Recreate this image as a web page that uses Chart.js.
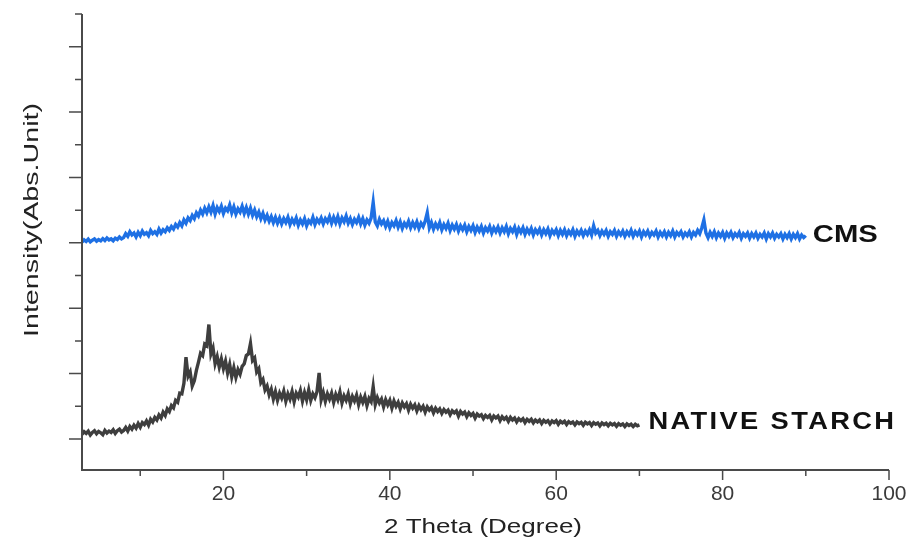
<!DOCTYPE html>
<html>
<head>
<meta charset="utf-8">
<script src="https://cdn.jsdelivr.net/npm/chart.js@4.4.1/dist/chart.umd.min.js"></script>
<style>
html, body { margin: 0; padding: 0; background: #fff; }
#wrap { width: 909px; height: 541px; }
</style>
</head>
<body>
<div id="wrap"><canvas id="chartXrd"></canvas></div>
<script>
// 2 theta sampling (degrees)
var thetaStart = 3
var thetaStep = 0.25

// CMS, 3 -> 90 deg (one row = 5 deg)
var cmsIntensity = [
    6.02,6.09,6.04,6.11,6.03,6.08,6.12,6.05,6.10,6.06,6.13,6.07,6.15,6.09,6.12,6.06,6.14,6.10,6.18,6.12,
    6.16,6.28,6.20,6.34,6.24,6.30,6.18,6.32,6.22,6.36,6.26,6.31,6.22,6.38,6.28,6.34,6.26,6.42,6.30,6.40,
    6.34,6.46,6.38,6.50,6.42,6.56,6.48,6.62,6.52,6.70,6.60,6.76,6.68,6.84,6.74,6.92,6.82,7.00,6.88,7.06,
    6.92,7.10,6.94,7.14,6.88,7.08,6.96,7.12,6.90,7.06,6.98,7.16,6.92,7.10,6.88,7.04,6.94,7.12,6.90,7.08,
    6.88,7.06,6.84,7.00,6.80,6.94,6.74,6.90,6.70,6.84,6.66,6.80,6.62,6.78,6.60,6.76,6.58,6.74,6.62,6.78,
    6.56,6.72,6.60,6.76,6.54,6.70,6.58,6.74,6.52,6.68,6.60,6.78,6.56,6.72,6.62,6.76,6.58,6.74,6.64,6.80,
    6.60,6.78,6.62,6.80,6.58,6.76,6.64,6.82,6.60,6.74,6.56,6.72,6.62,6.78,6.58,6.74,6.54,6.70,6.60,6.76,
    7.24,6.64,6.52,6.72,6.58,6.68,6.50,6.66,6.46,6.62,6.52,6.68,6.48,6.64,6.44,6.60,6.50,6.66,6.46,6.62,
    6.48,6.64,6.44,6.60,6.50,6.66,6.92,6.46,6.62,6.42,6.58,6.46,6.62,6.40,6.56,6.44,6.60,6.38,6.54,6.42,
    6.56,6.36,6.52,6.40,6.54,6.34,6.50,6.38,6.52,6.32,6.48,6.36,6.50,6.30,6.46,6.36,6.50,6.30,6.46,6.34,
    6.48,6.30,6.46,6.34,6.50,6.28,6.44,6.34,6.48,6.26,6.44,6.32,6.46,6.26,6.42,6.30,6.44,6.24,6.40,6.30,
    6.42,6.24,6.40,6.28,6.42,6.22,6.38,6.28,6.40,6.22,6.38,6.26,6.40,6.22,6.36,6.26,6.40,6.20,6.36,6.26,
    6.38,6.22,6.36,6.26,6.40,6.24,6.52,6.30,6.38,6.22,6.36,6.26,6.38,6.20,6.34,6.26,6.38,6.20,6.34,6.24,
    6.36,6.20,6.34,6.24,6.38,6.20,6.34,6.24,6.36,6.18,6.34,6.24,6.36,6.20,6.32,6.24,6.36,6.18,6.32,6.22,
    6.34,6.18,6.32,6.22,6.36,6.18,6.32,6.24,6.34,6.18,6.30,6.22,6.34,6.18,6.32,6.24,6.38,6.28,6.46,6.70,
    6.30,6.16,6.32,6.20,6.34,6.16,6.30,6.20,6.32,6.14,6.30,6.20,6.32,6.16,6.28,6.20,6.32,6.14,6.28,6.20,
    6.30,6.14,6.28,6.18,6.30,6.14,6.26,6.18,6.30,6.12,6.28,6.18,6.30,6.14,6.26,6.18,6.28,6.12,6.26,6.16,
    6.28,6.12,6.26,6.16,6.28,6.12,6.24,6.16,6.22
]

// native starch, 3 -> 70 deg (one row = 5 deg)
var nativeIntensity = [
    0.14,0.22,0.17,0.24,0.12,0.20,0.25,0.16,0.23,0.19,0.13,0.26,0.18,0.24,0.20,0.28,0.17,0.25,0.30,0.21,
    0.26,0.35,0.24,0.38,0.30,0.42,0.33,0.47,0.36,0.50,0.44,0.55,0.42,0.60,0.52,0.66,0.58,0.73,0.64,0.82,
    0.72,0.92,0.84,1.02,0.95,1.18,1.12,1.40,1.38,1.70,2.50,1.92,2.05,1.62,1.78,2.10,2.35,2.62,2.55,2.90,
    2.85,3.50,2.60,2.78,2.30,2.52,2.20,2.45,2.15,2.38,2.02,2.28,1.90,2.18,1.88,2.12,1.98,2.22,2.30,2.55,
    2.60,2.92,2.40,2.48,2.05,2.15,1.72,1.82,1.50,1.62,1.35,1.52,1.22,1.45,1.18,1.40,1.25,1.46,1.15,1.38,
    1.22,1.45,1.14,1.40,1.28,1.48,1.16,1.42,1.20,1.50,1.18,1.38,1.26,1.45,2.02,1.20,1.42,1.15,1.38,1.22,
    1.40,1.12,1.36,1.20,1.44,1.10,1.32,1.18,1.38,1.08,1.30,1.16,1.34,1.05,1.28,1.12,1.30,1.02,1.24,1.14,
    1.60,1.05,1.26,1.10,1.22,0.98,1.20,1.04,1.18,0.94,1.16,1.00,1.12,0.92,1.10,0.98,1.08,0.88,1.06,0.94,
    1.04,0.86,1.02,0.90,1.00,0.82,0.98,0.88,0.96,0.80,0.94,0.84,0.92,0.78,0.90,0.82,0.88,0.74,0.86,0.80,
    0.86,0.70,0.84,0.76,0.82,0.68,0.80,0.72,0.78,0.64,0.76,0.70,0.74,0.62,0.72,0.66,0.72,0.58,0.70,0.64,
    0.70,0.56,0.68,0.60,0.66,0.54,0.66,0.58,0.64,0.52,0.62,0.56,0.62,0.50,0.60,0.54,0.60,0.49,0.58,0.52,
    0.58,0.47,0.57,0.51,0.56,0.46,0.55,0.50,0.56,0.45,0.54,0.49,0.54,0.44,0.53,0.48,0.52,0.43,0.52,0.47,
    0.51,0.42,0.51,0.46,0.50,0.41,0.50,0.45,0.49,0.40,0.49,0.44,0.48,0.40,0.48,0.43,0.47,0.39,0.47,0.42,
    0.46,0.38,0.46,0.41,0.45,0.38,0.45,0.40,0.43
]

var seriesNames = ['CMS', 'NATIVE STARCH']
var thetaTicks = [20, 40, 60, 80, 100]
var thetaMinor = [10, 30, 50, 70, 90]
var intensityMajor = [0, 2, 4, 6, 8, 10, 12]
var intensityMinor = [1, 3, 5, 7, 9, 11, 13]
var xTitle = '2 Theta (Degree)'
var yTitle = 'Intensity(Abs.Unit)'

function toPoints(values){
    return values.map(function(v, i){
        return {x: thetaStart + i * thetaStep, y: v}
    })
}

var axisColor = '#4a4a4a'

// axes, ticks, titles and series names drawn by hand (origin style)
var decorPlugin = {
    id: 'decor',
    afterDraw: function(chart){
        let c = chart.ctx
        let a = chart.chartArea
        let xs = chart.scales.x
        let ys = chart.scales.y
        c.save()
        c.strokeStyle = axisColor
        c.lineWidth = 2
        c.beginPath()
        c.moveTo(a.left, a.top)
        c.lineTo(a.left, a.bottom)
        c.lineTo(a.right, a.bottom)
        c.stroke()
        c.lineWidth = 1.5
        c.beginPath()
        intensityMajor.forEach(function(v){
            let y = ys.getPixelForValue(v)
            c.moveTo(a.left, y); c.lineTo(a.left - 13, y)
        })
        intensityMinor.forEach(function(v){
            let y = ys.getPixelForValue(v)
            c.moveTo(a.left, y); c.lineTo(a.left - 7, y)
        })
        thetaTicks.forEach(function(v){
            let x = xs.getPixelForValue(v)
            c.moveTo(x, a.bottom); c.lineTo(x, a.bottom + 10)
        })
        thetaMinor.forEach(function(v){
            let x = xs.getPixelForValue(v)
            c.moveTo(x, a.bottom); c.lineTo(x, a.bottom + 6)
        })
        c.stroke()

        // x title
        c.fillStyle = '#222'
        c.textAlign = 'center'
        c.textBaseline = 'middle'
        c.font = '21px "Liberation Sans", Arial, sans-serif'
        let w = c.measureText(xTitle).width
        c.save()
        c.translate(483, 527)
        c.scale(198 / w, 1)
        c.fillText(xTitle, 0, 0)
        c.restore()

        // y title
        c.font = '20px "Liberation Sans", Arial, sans-serif'
        w = c.measureText(yTitle).width
        c.save()
        c.translate(32, 220)
        c.rotate(-Math.PI / 2)
        c.scale(234 / w, 1)
        c.fillText(yTitle, 0, 0)
        c.restore()

        // series names at the end of each trace
        c.fillStyle = '#111'
        c.textAlign = 'left'
        c.font = 'bold 23px "Liberation Sans", Arial, sans-serif'
        let cmsEnd = thetaStart + (cmsIntensity.length - 1) * thetaStep
        let natEnd = thetaStart + (nativeIntensity.length - 1) * thetaStep
        w = c.measureText(seriesNames[0]).width
        c.save()
        c.translate(xs.getPixelForValue(cmsEnd) + 7, 236)
        c.scale(65 / w, 1)
        c.fillText(seriesNames[0], 0, 0)
        c.restore()
        c.letterSpacing = '2px'
        w = c.measureText(seriesNames[1]).width
        c.save()
        c.translate(xs.getPixelForValue(natEnd) + 9, 423)
        c.scale(248 / w, 1)
        c.fillText(seriesNames[1], 0, 0)
        c.restore()
        c.restore()
    }
}

var ctx = document.getElementById('chartXrd')
var chartXrd = new Chart(ctx, {
    type: 'line',
    data: {
        datasets: [{
            label: seriesNames[0],
            data: toPoints(cmsIntensity),
            borderColor: 'rgb(30, 112, 228)',
            borderWidth: 3.4,
            pointRadius: 0,
            tension: 0
        }, {
            label: seriesNames[1],
            data: toPoints(nativeIntensity),
            borderColor: 'rgb(62, 62, 62)',
            borderWidth: 3.4,
            pointRadius: 0,
            tension: 0
        }]
    },
    options: {
        responsive: true,
        maintainAspectRatio: false,
        animation: false,
        layout: { padding: { top: 14, right: 20, left: 0, bottom: 0 } },
        plugins: {
            legend: { display: false },
            tooltip: { enabled: false }
        },
        scales: {
            x: {
                type: 'linear',
                min: 3,
                max: 100,
                afterBuildTicks: function(scale){
                    scale.ticks = thetaTicks.map(function(v){ return {value: v} })
                },
                afterFit: function(scale){
                    scale.height = 71
                    scale.paddingLeft = 0
                    scale.paddingRight = 0
                },
                grid: { display: false, drawTicks: false },
                border: { display: false },
                ticks: {
                    color: '#3a3a3a',
                    padding: 12,
                    maxRotation: 0,
                    font: { family: '"Liberation Sans", Arial, sans-serif', size: 21 }
                }
            },
            y: {
                type: 'linear',
                min: -0.95,
                max: 13,
                afterFit: function(scale){ scale.width = 82 },
                grid: { display: false, drawTicks: false },
                border: { display: false },
                ticks: { display: false }
            }
        }
    },
    plugins: [decorPlugin]
})
</script>
</body>
</html>
